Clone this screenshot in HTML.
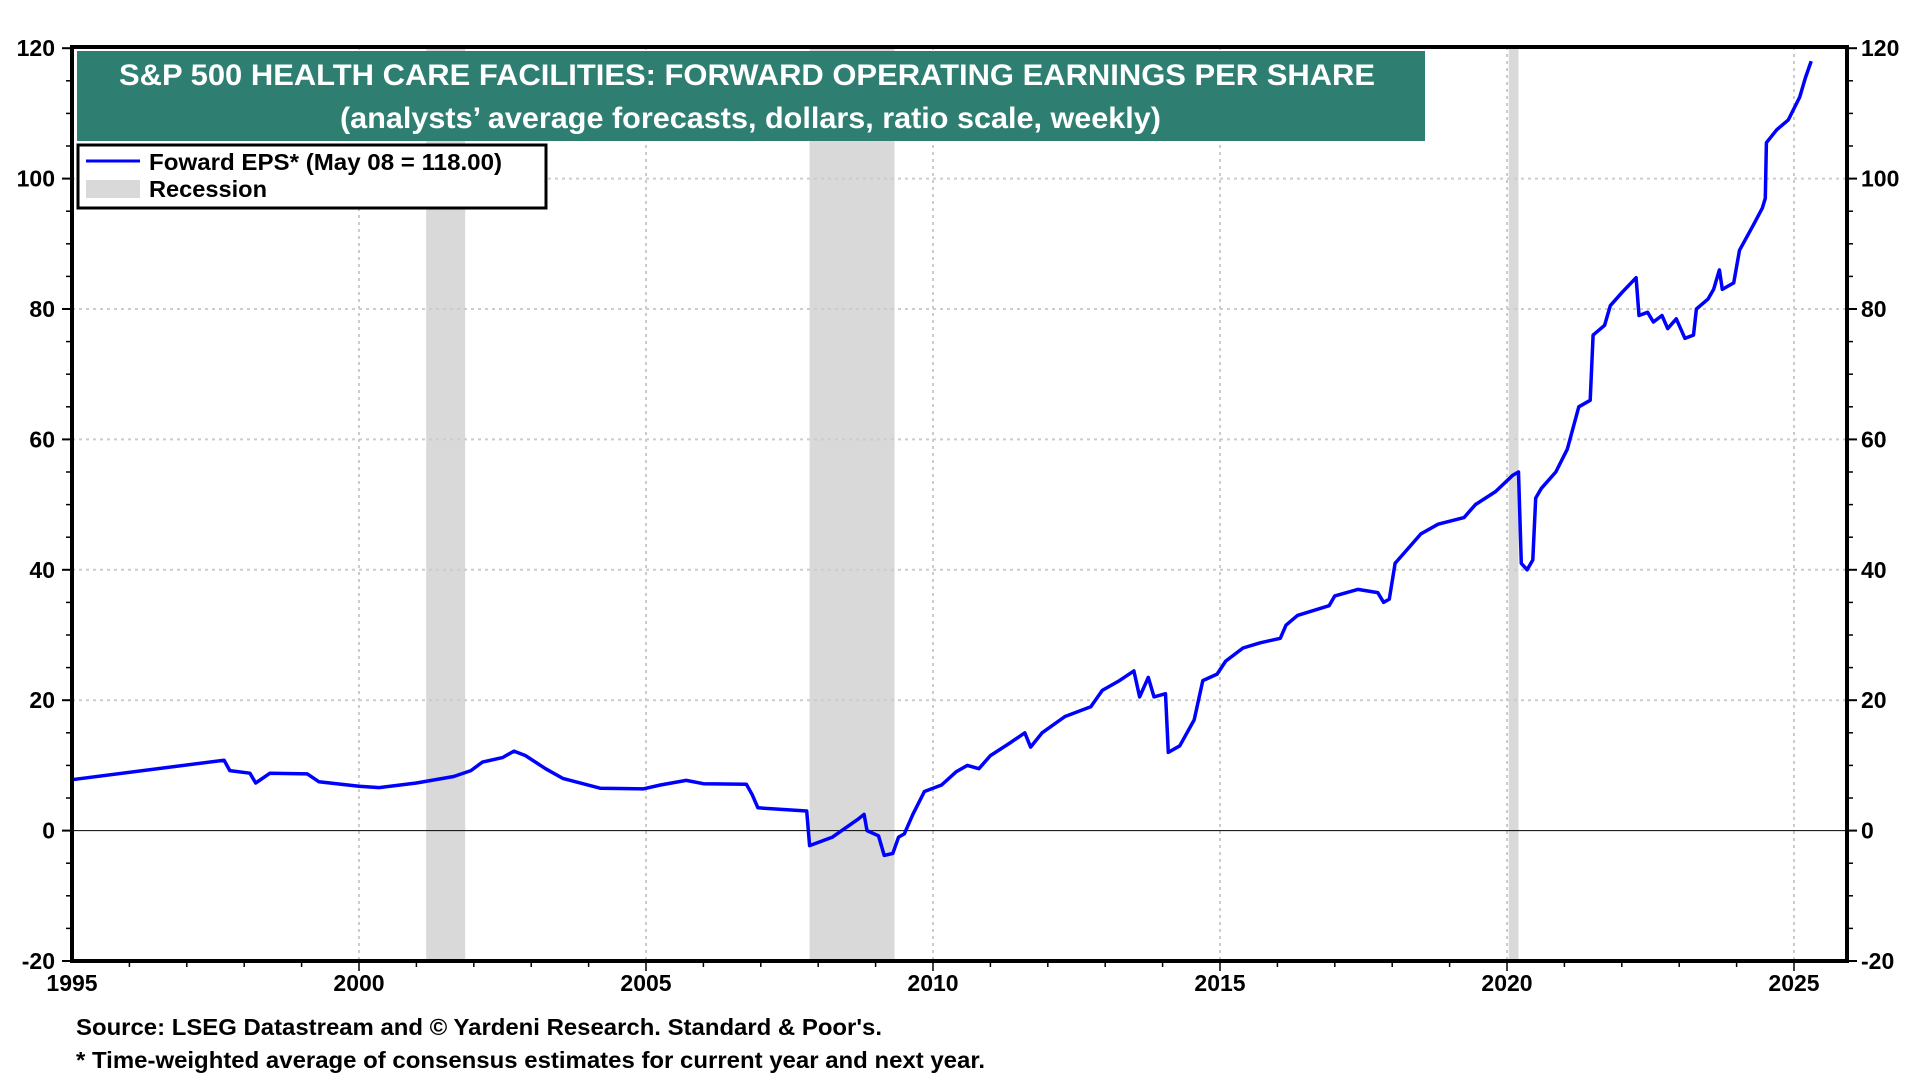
<!DOCTYPE html>
<html><head><meta charset="utf-8"><style>
html,body{margin:0;padding:0;background:#fff;}
svg{display:block;font-family:"Liberation Sans",Arial,sans-serif;font-weight:bold;}
</style></head><body>
<svg id="chart" width="1920" height="1080" viewBox="0 0 1920 1080" xmlns="http://www.w3.org/2000/svg">
<g id="rec"></g>
<g id="grid"></g>
<g id="series"></g>
<g id="axes"></g>
<rect x="77" y="51" width="1348" height="90" fill="#2e7f72"/>
<text x="119" y="85" fill="#fff" font-size="30" textLength="1256" lengthAdjust="spacingAndGlyphs">S&amp;P 500 HEALTH CARE FACILITIES: FORWARD OPERATING EARNINGS PER SHARE</text>
<text x="340" y="128" fill="#fff" font-size="30" textLength="821" lengthAdjust="spacingAndGlyphs">(analysts’ average forecasts, dollars, ratio scale, weekly)</text>
<g>
<rect x="78" y="145" width="468" height="63" fill="#fff" stroke="#000" stroke-width="3"/>
<line x1="86" y1="161" x2="140" y2="161" stroke="#0000ff" stroke-width="3"/>
<text x="149" y="170" font-size="23" textLength="353" lengthAdjust="spacingAndGlyphs">Foward EPS* (May 08 = 118.00)</text>
<rect x="86" y="180" width="54" height="18" fill="#d9d9d9"/>
<text x="149" y="197" font-size="23" textLength="118" lengthAdjust="spacingAndGlyphs">Recession</text>
</g>
<text x="76" y="1035" font-size="23" textLength="806" lengthAdjust="spacingAndGlyphs">Source: LSEG Datastream and © Yardeni Research. Standard &amp; Poor's.</text>
<text x="76" y="1068" font-size="23" textLength="909" lengthAdjust="spacingAndGlyphs">* Time-weighted average of consensus estimates for current year and next year.</text>
</svg>
<script>
const years = [1995,1997.65,1997.75,1998.1,1998.2,1998.45,1999.1,1999.3,2000,2000.35,2001,2001.65,2001.95,2002.15,2002.5,2002.7,2002.9,2003.25,2003.55,2003.9,2004.2,2004.95,2005.25,2005.7,2006,2006.75,2006.85,2006.95,2007.8,2007.85,2008.25,2008.7,2008.8,2008.85,2009.05,2009.15,2009.3,2009.4,2009.5,2009.65,2009.85,2010.15,2010.4,2010.6,2010.8,2011,2011.35,2011.6,2011.7,2011.9,2012.3,2012.75,2012.95,2013.25,2013.5,2013.6,2013.75,2013.85,2014.05,2014.1,2014.3,2014.55,2014.7,2014.95,2015.1,2015.4,2015.7,2016.05,2016.15,2016.35,2016.9,2017,2017.4,2017.75,2017.85,2017.95,2018.05,2018.3,2018.5,2018.8,2019.25,2019.45,2019.8,2020.1,2020.2,2020.25,2020.35,2020.45,2020.5,2020.6,2020.85,2021.05,2021.25,2021.45,2021.5,2021.7,2021.8,2022,2022.25,2022.3,2022.45,2022.55,2022.7,2022.8,2022.95,2023.1,2023.25,2023.3,2023.5,2023.6,2023.7,2023.75,2023.95,2024.05,2024.3,2024.45,2024.5,2024.52,2024.7,2024.9,2025.1,2025.2,2025.3];
const eps = [7.8,10.8,9.2,8.8,7.3,8.8,8.7,7.5,6.8,6.6,7.3,8.3,9.2,10.5,11.2,12.2,11.5,9.5,8.0,7.2,6.5,6.4,7.0,7.7,7.2,7.1,5.5,3.5,3.0,-2.3,-1.0,1.8,2.5,0.0,-0.8,-3.8,-3.5,-1.0,-0.5,2.5,6.0,7.0,9.0,10.0,9.5,11.5,13.5,15.0,12.8,15.0,17.5,19.0,21.5,23.0,24.5,20.5,23.5,20.5,21.0,12.0,13.0,17.0,23.0,24.0,26.0,28.0,28.8,29.5,31.5,33.0,34.5,36.0,37.0,36.5,35.0,35.5,41.0,43.5,45.5,47.0,48.0,50.0,52.0,54.5,55.0,41.0,40.0,41.5,51.0,52.5,55.0,58.5,65.0,66.0,76.0,77.5,80.5,82.5,84.8,79.0,79.5,78.0,79.0,77.0,78.5,75.5,76.0,80.0,81.5,83.0,86.0,83.0,84.0,89.0,93.0,95.5,97.0,105.5,107.5,109.0,112.5,115.5,118.0];
const recStarts = [2001.17,2007.85,2020.03];
const recEnds = [2001.85,2009.33,2020.2];
const yTicks = [-20,0,20,40,60,80,100,120];
const xTicks = [1995,2000,2005,2010,2015,2020,2025];

const X0=72, X1=1847, Y0=47, Y1=961;
const x = yr => X0 + (yr-1995)*57.4;
const y = v => 830.6 - v*6.52;
const NS="http://www.w3.org/2000/svg";
function mk(tag, attrs, parent){const e=document.createElementNS(NS,tag);for(const k in attrs)e.setAttribute(k,attrs[k]);parent.appendChild(e);return e;}
const rec=document.getElementById('rec'), grid=document.getElementById('grid'), ser=document.getElementById('series'), axes=document.getElementById('axes');
recStarts.forEach((s,i)=>{
  const r=mk('rect',{x:x(s),y:Y0,width:x(recEnds[i])-x(s),height:Y1-Y0,fill:'#d9d9d9'},rec);
  
  
});
yTicks.forEach(v=>{
  if(v>-20&&v<120&&v!==0){const l=mk('line',{x1:X0,x2:X1,y1:y(v),y2:y(v),stroke:'#ccc','stroke-width':2,'stroke-dasharray':'3,4'},grid);
  
  }
  const tl=mk('text',{x:X0-17,y:y(v)+8,'text-anchor':'end','font-size':23},axes);tl.textContent=v;
  
  
  const tr=mk('text',{x:X1+14,y:y(v)+8,'text-anchor':'start','font-size':23},axes);tr.textContent=v;
  
  
  mk('line',{x1:X0-10,x2:X0,y1:y(v),y2:y(v),stroke:'#000','stroke-width':2},axes);
  mk('line',{x1:X1,x2:X1+10,y1:y(v),y2:y(v),stroke:'#000','stroke-width':2},axes);
});
for(let v=-15;v<120;v+=5){if(v%20===0)continue;
  mk('line',{x1:X0-6,x2:X0,y1:y(v),y2:y(v),stroke:'#000','stroke-width':1.5},axes);
  mk('line',{x1:X1,x2:X1+6,y1:y(v),y2:y(v),stroke:'#000','stroke-width':1.5},axes);}
xTicks.forEach(t=>{
  if(t>1995){const l=mk('line',{x1:x(t),x2:x(t),y1:Y0,y2:Y1,stroke:'#ccc','stroke-width':2,'stroke-dasharray':'3,4'},grid);
  
  }
  const tl=mk('text',{x:x(t),y:991,'text-anchor':'middle','font-size':23},axes);tl.textContent=t;
  
  
});
for(let t=1996;t<=2025;t++) mk('line',{x1:x(t),x2:x(t),y1:Y1,y2:Y1+(t%5===0?10:6),stroke:'#000','stroke-width':1.5},axes);
const zl=mk('line',{x1:X0,x2:X1,y1:y(0),y2:y(0),stroke:'#000','stroke-width':1},grid);


const pts=years.map((t,i)=>x(t).toFixed(1)+','+y(eps[i]).toFixed(1)).join(' ');
const pl=mk('polyline',{points:pts,fill:'none',stroke:'#0000ff','stroke-width':3.5,'stroke-linejoin':'round'},ser);


const fr=mk('rect',{x:X0,y:Y0,width:X1-X0,height:Y1-Y0,fill:'none',stroke:'#000','stroke-width':4},axes);


</script>
</body></html>
